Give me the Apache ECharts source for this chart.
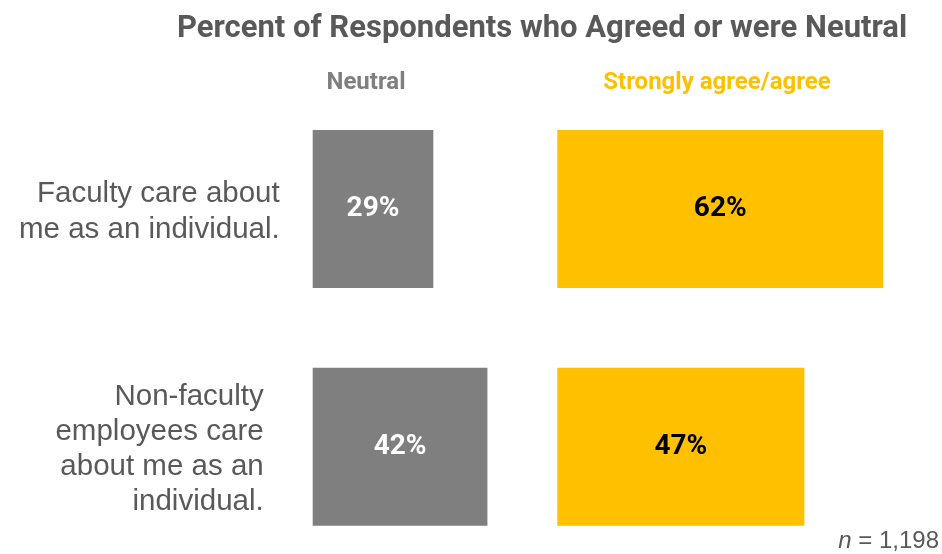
<!DOCTYPE html>
<html>
<head>
<meta charset="utf-8">
<script src="https://cdn.jsdelivr.net/npm/echarts@6/dist/echarts.min.js"></script>
<style>html,body{margin:0;padding:0;background:#fff}#c{width:942px;height:554px}</style>
</head>
<body>
<div id="c"></div>
<script>
const categories = ['Faculty care about\nme as an individual.', 'Non-faculty\nemployees care\nabout me as an\nindividual.'];
const neutralValues = [29, 42];
const agreeValues = [62, 47];
const seriesNames = ['Neutral', 'Strongly agree/agree'];
const chartTitle = 'Percent of Respondents who Agreed or were Neutral';
const sampleNote = '1,198';

const NARROW = "'Liberation Sans Narrow', 'Arial Narrow', 'Roboto', sans-serif";
const REG = "'Liberation Sans', Arial, sans-serif";
const chart = echarts.init(document.getElementById('c'));
chart.setOption({
  animation: false,
  backgroundColor: '#fff',
  title: [
    { text: chartTitle, left: 172, top: 9, textStyle: { fontFamily: NARROW, fontWeight: 'bold', fontSize: 31, color: '#595959' } },
    { text: seriesNames[0], left: 361, top: 66, textAlign: 'center', textStyle: { fontFamily: NARROW, fontWeight: 'bold', fontSize: 24, color: '#7F7F7F' } },
    { text: seriesNames[1], left: 712, top: 66, textAlign: 'center', textStyle: { fontFamily: NARROW, fontWeight: 'bold', fontSize: 24, color: '#FFC000' } },
    { text: '{i|n} = ' + sampleNote, right: -2, top: 524, textStyle: { fontFamily: REG, fontWeight: 'normal', fontSize: 24, color: '#595959', rich: { i: { fontFamily: REG, fontStyle: 'italic', fontWeight: 'normal', fontSize: 24, color: '#595959' } } } }
  ],
  grid: [
    { left: 312.7, top: 90.15, width: 208, height: 475.4, containLabel: false, outerBoundsMode: 'none' },
    { left: 557.3, top: 90.15, width: 368, height: 475.4, containLabel: false, outerBoundsMode: 'none' }
  ],
  xAxis: [
    { gridIndex: 0, type: 'value', min: 0, max: 50, show: false },
    { gridIndex: 1, type: 'value', min: 0, max: 70, show: false }
  ],
  yAxis: [
    { gridIndex: 0, type: 'category', data: categories, inverse: true,
      axisLine: { show: false }, axisTick: { show: false }, splitLine: { show: false },
      axisLabel: { margin: 33, align: 'right',
        formatter: function (v, idx) {
          const tag = idx === 0 ? 'a' : 'b';
          return v.split('\n').map(l => '{' + tag + '|' + l + '}').join('\n');
        },
        rich: {
          a: { fontFamily: REG, fontSize: 29.5, lineHeight: 36, height: 36, color: '#595959', align: 'right', padding: [5, 0, 0, 0] },
          b: { fontFamily: REG, fontSize: 29.5, lineHeight: 35, height: 35, color: '#595959', align: 'right', padding: [6, 16, 0, 0] }
        }
      } },
    { gridIndex: 1, type: 'category', data: categories, inverse: true, show: false }
  ],
  series: [
    { name: seriesNames[0], type: 'bar', xAxisIndex: 0, yAxisIndex: 0, data: neutralValues, barWidth: 158,
      itemStyle: { color: '#7F7F7F' },
      label: { show: true, position: 'inside', formatter: '{c}%', fontFamily: NARROW, fontWeight: 'bold', fontSize: 28, color: '#fff' } },
    { name: seriesNames[1], type: 'bar', xAxisIndex: 1, yAxisIndex: 1, data: agreeValues, barWidth: 158,
      itemStyle: { color: '#FFC000' },
      label: { show: true, position: 'inside', formatter: '{c}%', fontFamily: NARROW, fontWeight: 'bold', fontSize: 28, color: '#000' } }
  ]
});
</script>
</body>
</html>
